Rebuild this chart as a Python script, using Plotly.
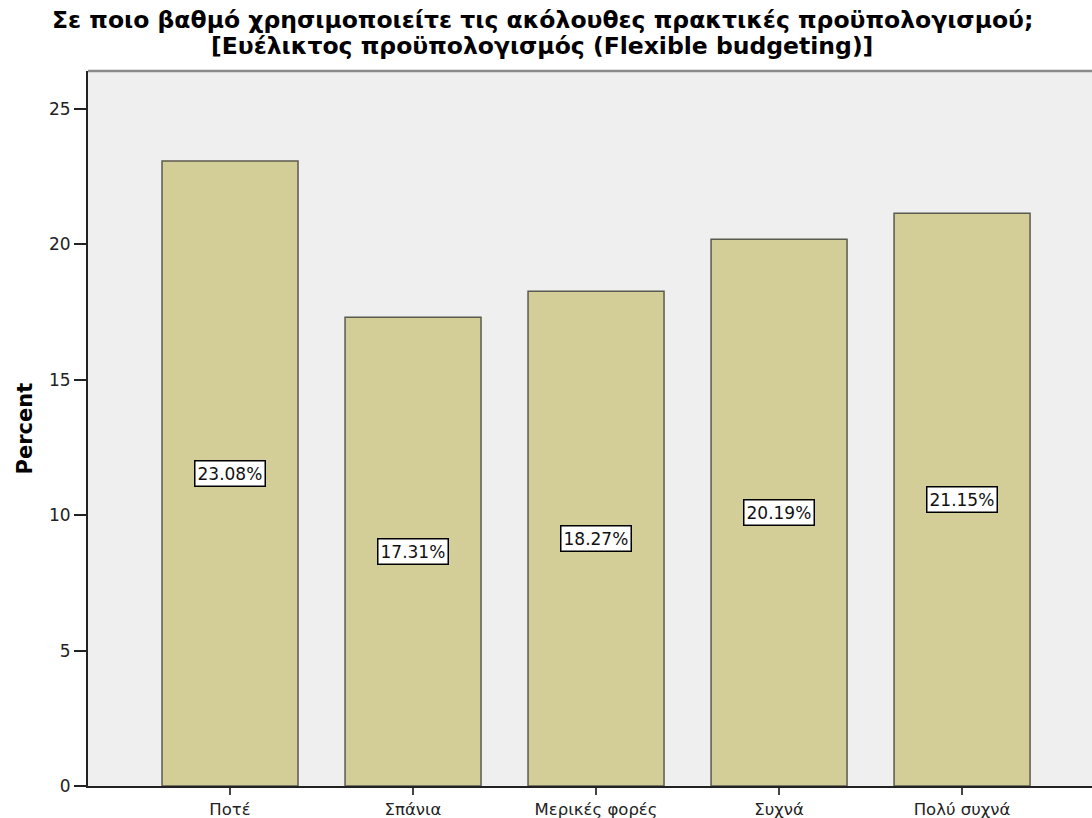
import plotly.graph_objects as go

categories = ["Ποτέ", "Σπάνια", "Μερικές φορές", "Συχνά", "Πολύ συχνά"]
percents = [23.08, 17.31, 18.27, 20.19, 21.15]
y_ticks = [0, 5, 10, 15, 20, 25]

title_lines = [
    "Σε ποιο βαθμό χρησιμοποιείτε τις ακόλουθες πρακτικές προϋπολογισμού;",
    "[Ευέλικτος προϋπολογισμός (Flexible budgeting)]",
]
y_title = "Percent"

FONT = "DejaVu Sans, Verdana, sans-serif"
W, H = 1092, 818
L, R, T, B = 88, 0, 71, 32

x_pos = list(range(len(categories)))

fig = go.Figure()
fig.add_trace(go.Bar(
    x=x_pos,
    y=percents,
    width=0.743,
    marker=dict(color="#D3CE97", line=dict(color="#5A5A50", width=1.5)),
    hoverinfo="skip",
))

# value labels boxed at mid-height of each bar
for xi, v in zip(x_pos, percents):
    fig.add_annotation(
        x=xi, y=v / 2, text=f"{v:.2f}%", showarrow=False,
        font=dict(family=FONT, size=17, color="#111"),
        bgcolor="white", bordercolor="black", borderwidth=1.5, borderpad=2,
    )

# two-line chart title, centred on the figure
title_cx = (542 - L) / (W - L - R)
for line, shift in zip(title_lines, [51, 25]):
    fig.add_annotation(
        xref="paper", yref="paper", x=title_cx, y=1, yshift=shift,
        xanchor="center", yanchor="middle", showarrow=False,
        text=f"<b>{line}</b>",
        font=dict(family=FONT, size=23.5, color="black"),
    )

# vertical axis title
fig.add_annotation(
    xref="paper", yref="paper", x=0, y=0.5, xshift=-(L - 24),
    xanchor="center", yanchor="middle", textangle=-90, showarrow=False,
    text=f"<b>{y_title}</b>",
    font=dict(family=FONT, size=21, color="black"),
)

# top frame line of the plot area
fig.add_shape(type="line", xref="paper", yref="paper", x0=0, x1=1, y0=1, y1=1,
              line=dict(color="#8A8A8A", width=2.5))

fig.update_layout(
    width=W, height=H,
    margin=dict(l=L, r=R, t=T, b=B, autoexpand=False),
    paper_bgcolor="white",
    plot_bgcolor="#EFEFEF",
    showlegend=False,
    xaxis=dict(
        range=[-0.776, 4.71],
        tickvals=x_pos, ticktext=categories,
        ticks="outside", ticklen=7, tickwidth=2, tickcolor="#444",
        showline=True, linecolor="#222", linewidth=2,
        showgrid=False, zeroline=False, automargin=False,
        tickfont=dict(family=FONT, size=16.5, color="#222"),
    ),
    yaxis=dict(
        range=[0, 26.4],
        tickvals=y_ticks,
        ticks="outside", ticklen=12, tickwidth=2, tickcolor="#222",
        showline=True, linecolor="#222", linewidth=2,
        showgrid=False, zeroline=False, automargin=False,
        tickfont=dict(family=FONT, size=17, color="#222"),
    ),
)

fig.write_html("out.html")
